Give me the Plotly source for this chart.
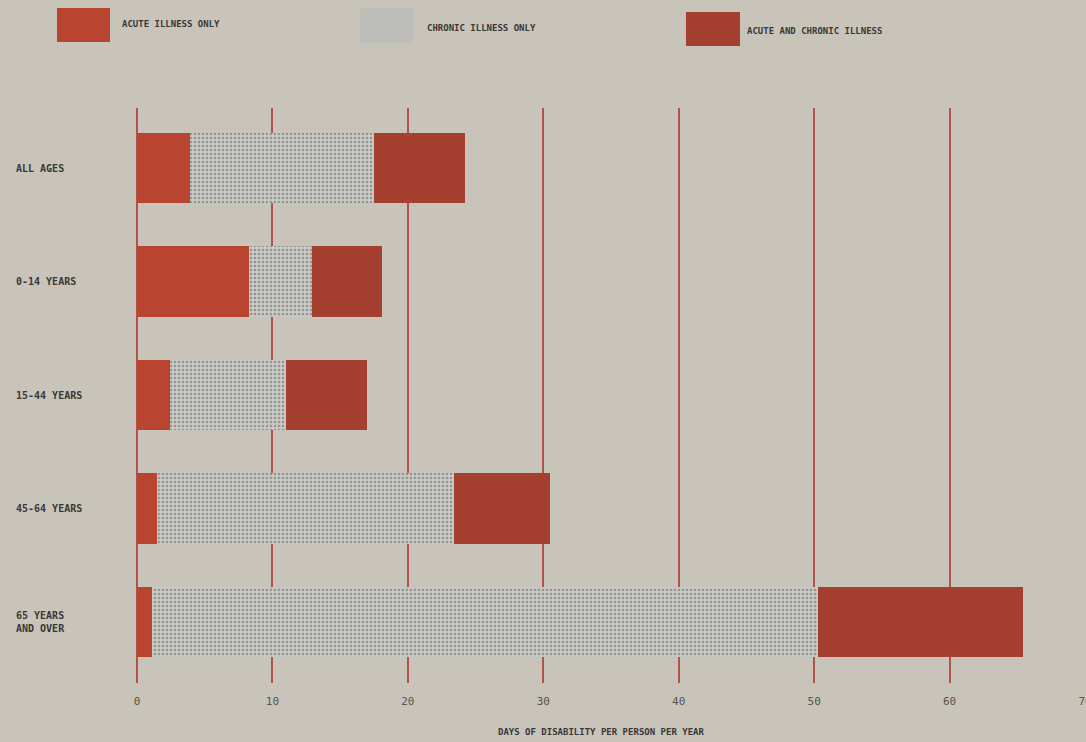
import plotly.graph_objects as go

# ---- data ----
age_groups = ["ALL AGES", "0-14 YEARS", "15-44 YEARS", "45-64 YEARS", "65 YEARS<br>AND OVER"]
acute_only = [3.9, 8.3, 2.4, 1.5, 1.1]
chronic_only = [13.6, 4.6, 8.6, 21.9, 49.2]
acute_and_chronic = [6.7, 5.2, 6.0, 7.1, 15.1]
x_ticks = [0, 10, 20, 30, 40, 50, 60, 70]
series_names = ["ACUTE ILLNESS ONLY", "CHRONIC ILLNESS ONLY", "ACUTE AND CHRONIC ILLNESS"]
x_title = "DAYS OF DISABILITY PER PERSON PER YEAR"

BG = "#c8c4ba"
RED1 = "#b94430"
RED2 = "#a53f2f"
GREY_BG = "#cacac6"
GREY_FG = "#95958f"
GRID = "#b0544a"
TXT = "#3a3836"
FONT = "DejaVu Sans Mono"

fig = go.Figure()
fig.add_trace(go.Bar(y=age_groups, x=acute_only, orientation="h", name=series_names[0],
                     marker=dict(color=RED1, line=dict(width=0)), width=0.62))
fig.add_trace(go.Bar(y=age_groups, x=chronic_only, orientation="h", name=series_names[1],
                     marker=dict(color=GREY_BG, line=dict(width=0),
                                 pattern=dict(shape=".", fgcolor=GREY_FG, bgcolor=GREY_BG,
                                              size=4, solidity=0.35, fillmode="replace")),
                     width=0.62))
fig.add_trace(go.Bar(y=age_groups, x=acute_and_chronic, orientation="h", name=series_names[2],
                     marker=dict(color=RED2, line=dict(width=0)), width=0.62))

annotations = []
for g in age_groups:
    annotations.append(dict(x=-0.1297, xref="paper", y=g, yref="y", text=g, showarrow=False,
                            xanchor="left", align="left",
                            font=dict(family=FONT, size=10, color=TXT, weight="bold")))

# legend (manual)
legend_items = [
    (series_names[0], RED1, -0.0844, -0.0285, 1.1148, 1.1739, -0.0179, 1.146),
    (series_names[1], "#bdbdb9", 0.2352, 0.2911, 1.1130, 1.1739, 0.3038, 1.139),
    (series_names[2], RED2, 0.5791, 0.6361, 1.1078, 1.1670, 0.6414, 1.134),
]
shapes = []
for name, col, x0, x1, y0, y1, tx, ty in legend_items:
    shapes.append(dict(type="rect", xref="paper", yref="paper", x0=x0, x1=x1, y0=y0, y1=y1,
                       fillcolor=col, line=dict(width=0), layer="above"))
    annotations.append(dict(x=tx, xref="paper", y=ty, yref="paper", text=name, showarrow=False,
                            xanchor="left", yanchor="middle",
                            font=dict(family=FONT, size=9, color=TXT, weight="bold")))

annotations.append(dict(x=0.4895, xref="paper", y=-0.0852, yref="paper", text=x_title,
                        showarrow=False, xanchor="center", yanchor="middle",
                        font=dict(family=FONT, size=9, color=TXT, weight="bold")))

fig.update_layout(
    barmode="stack",
    width=1086, height=742,
    paper_bgcolor=BG, plot_bgcolor=BG,
    margin=dict(l=137, r=1, t=108, b=59, autoexpand=False),
    showlegend=False,
    xaxis=dict(range=[0, 70], tickvals=x_ticks, ticktext=[str(v) for v in x_ticks],
               showgrid=True, gridcolor=GRID, gridwidth=2,
               zeroline=True, zerolinecolor=GRID, zerolinewidth=2,
               showline=False, ticks="outside", ticklen=8, tickcolor="rgba(0,0,0,0)",
               ticklabeloverflow="allow", automargin=False,
               tickfont=dict(family=FONT, size=11, color="#555350"), fixedrange=True),
    yaxis=dict(categoryorder="array", categoryarray=age_groups,
               range=[4.536, -0.53], showticklabels=False, showgrid=False,
               zeroline=False, showline=False, ticks="", fixedrange=True, automargin=False),
    annotations=annotations,
    shapes=shapes,
    bargap=0.38,
)

fig.write_html("out.html", config={"displayModeBar": False},
               post_script="document.body.style.margin='0';document.body.style.overflow='hidden';")
